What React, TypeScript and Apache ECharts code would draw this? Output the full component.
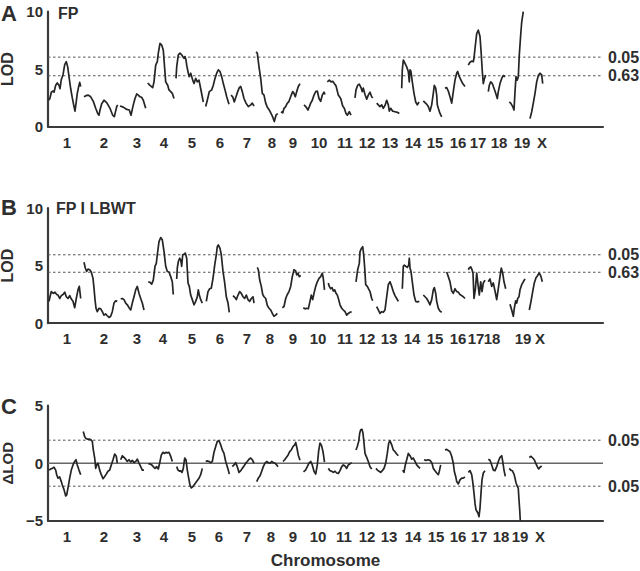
import React, { useEffect, useRef } from "react";
import * as echarts from "echarts";

// ---------- data ----------
const chromNames = ["1","2","3","4","5","6","7","8","9","10","11","12","13","14","15","16","17","18","19","X"];
// chromosome label positions (map units along the genome axis)
const chromPosA = [19,56,89,116,144,172,199,224,245,271,297,319,342,365,387,410,430,451,474,494];
const chromPosB = [19,56,89,115,144,172,199,222,245,270,297,319,341,364,387,410,428,444,475,492];
const chromPosC = [19,56,89,116,144,171,199,223,245,270,296,319,341,365,388,410,431,453,472,492];
const genomeLength = 555;

// thresholds
const thrA = [6.05, 4.43];
const thrB = [5.95, 4.43];
const thrC = [2, -2];
const thrLabelsAB = ["0.05", "0.63"];
const thrLabelsC = ["0.05", "0.05"];

// Panel A: FP  — [position, LOD] per chromosome
const lodFP: number[][][] = [
  [[1,2.3],[2,2.5],[3.3,3.0],[5,3.1],[6,3.0],[7.7,3.6],[9.3,3.8],[11,3.6],[12,3.3],[13.3,4.1],[15,4.5],[16.7,5.4],[18.3,5.65],[19.7,5.2],[21,4.35],[22.7,3.3],[24.3,2.5],[26,1.75],[27,1.35],[28,2.0],[29.3,2.9],[30.7,3.5],[31.7,3.85],[32.7,3.5]],
  [[36,2.6],[38,2.7],[40.3,2.75],[42.7,2.6],[45.3,2.2],[47.7,1.6],[49.7,1.15],[51,1.0],[52,1.45],[53.7,2.0],[56,2.3],[58.7,2.1],[62,1.6],[64.7,1.0],[66.3,0.87],[68.7,1.75],[69.7,1.9]],
  [[72,1.8],[75.3,1.7],[78.7,1.5],[81.3,1.45],[83,1.0],[85.3,1.9],[87,2.45],[88.7,2.85],[90.3,2.75],[92,2.6],[93.7,2.55],[95.3,2.3],[97.7,1.6]],
  [[99.7,3.8],[102,3.6],[104.7,3.4],[106,3.9],[107.7,5.35],[109.3,5.65],[110.3,6.4],[112,7.25],[113.7,7.1],[115.3,6.65],[116.3,5.5],[117.7,3.9],[119.7,3.6],[121,3.2],[122.7,3.05],[124.3,2.9],[126,2.45]],
  [[128,4.2],[128.7,5.2],[130.3,6.25],[132,6.4],[133.7,6.25],[134.7,6.1],[136,5.95],[137,6.1],[138,5.8],[138.7,5.35],[140.3,4.65],[141.3,4.35],[142.7,4.65],[144.7,4.05],[146,3.75],[147.7,4.2],[149.3,3.9],[151,4.05],[152.7,3.3],[155.3,2.15]],
  [[157.7,1.75],[159.3,2.3],[161.3,3.05],[163.7,3.2],[165.3,3.6],[167,4.2],[168.7,4.65],[170.3,4.95],[172,4.8],[173.7,4.35],[175.3,3.75],[177,3.2],[178.7,2.6],[181,1.95]],
  [[183,2.75],[184.7,2.6],[186.3,2.15],[188,2.6],[189.7,3.05],[191.3,3.4],[192.7,3.5],[194.3,3.05],[196,2.45],[198,2.05],[200.3,1.75],[202.7,1.9],[204.3,2.05],[206,1.8]],
  [[208,6.5],[209.3,6.4],[211,5.2],[212.7,4.2],[214.3,2.9],[216,2.75],[217.7,2.05],[219.3,1.7],[221.3,1.45],[223,1.15],[224.7,0.85],[226.3,0.45],[228,1.0],[229.7,1.15]],
  [[233,1.3],[234.7,1.2],[236,1.6],[237.7,1.75],[239.3,2.05],[240.7,2.15],[242,2.45],[243.3,2.75],[244.7,3.05],[246,2.9],[247.3,2.6],[248.7,3.05],[250.3,3.5],[252,3.75]],
  [[256,1.9],[257.7,1.75],[260,1.45],[262.7,2.05],[264.3,2.3],[266,2.75],[267.7,3.05],[269.3,3.1],[271,2.45],[272.7,2.2],[274.3,2.75],[276,3.0],[277,2.8]],
  [[279.3,3.9],[281.3,4.05],[283,3.9],[284.7,3.95],[286.3,3.75],[288,3.55],[290.3,2.75],[292.7,2.45],[294.7,1.8],[296.3,1.6],[298,1.15],[299.3,1.0],[301.3,1.3],[303,1.0]],
  [[307,2.5],[308,3.2],[309.7,3.6],[311.3,3.7],[313,3.4],[314.3,3.05],[315.3,3.35],[317,2.8],[318.7,2.4],[320.3,2.75],[322,3.0],[323.7,2.6],[324.7,2.5]],
  [[328.7,2.05],[330.3,1.9],[332,1.75],[333.7,1.9],[335.3,1.6],[337,1.85],[338.7,2.3],[340.3,1.9],[341.3,1.35],[342.7,1.6],[344.7,1.35],[347,1.3],[349.3,1.25],[351.3,1.15]],
  [[353.7,3.35],[354.3,4.95],[355.3,5.8],[357,5.5],[358.7,5.2],[360.3,4.8],[361.3,3.9],[362,4.95],[363,4.8],[364.3,3.9],[366,2.9],[367.7,2.15],[369.3,1.9],[371,2.15]],
  [[375.3,2.25],[377,2.1],[378.7,1.95],[380.3,1.75],[382,1.35],[383.7,1.9],[385.3,2.9],[386.3,3.6],[387.7,3.35],[388.7,2.75],[389.3,1.9],[390.3,1.6],[392,1.15],[393.7,0.85]],
  [[397,3.35],[398.7,3.4],[400.3,3.1],[402,2.6],[403.7,2.05],[405.3,3.05],[407,4.05],[408.7,4.65],[409.7,4.8],[411.3,4.35],[413,4.05],[414.7,3.75],[417,3.5]],
  [[420.3,5.35],[422,5.6],[423.7,5.7],[425.3,5.65],[426,5.95],[427,6.8],[428.7,8.1],[430.3,8.4],[432,7.85],[433.3,6.25],[434.3,4.8],[435.3,3.75],[436.3,4.15],[437.7,4.5]],
  [[440.3,3.05],[441.3,3.6],[442.7,3.9],[444.3,3.75],[446,3.35],[447.7,2.9],[449.3,2.45],[450.3,3.05],[452,3.75],[453.7,4.2],[455.3,4.45],[457,4.35]],
  [[461.3,2.15],[462.7,2.05],[464.7,1.75],[466,1.45],[467,3.05],[468,4.35],[469.3,4.05],[470.3,4.35],[471.3,6.25],[472.7,8.0],[473.7,9.1],[475.3,10]],
  [[482,0.7],[483.7,1.3],[485.3,2.05],[487,2.9],[488.7,3.9],[490.3,4.45],[492,4.65],[493.7,4.5],[494.7,3.75]],
];

// Panel B: FP | LBWT
const lodFPgivenLBWT: number[][][] = [
  [[1,1.9],[2,2.3],[3.3,2.75],[5.3,2.6],[7,2.7],[8.7,2.5],[10,2.45],[11.7,2.15],[13.3,2.4],[15,2.5],[16.7,2.7],[18.3,2.3],[20,2.15],[21.7,2.4],[23.3,2.1],[25,1.9],[26.7,1.35],[28.3,2.15],[30,2.9],[31.3,3.2],[32.7,2.15]],
  [[36,5.3],[37.3,4.8],[38.7,4.5],[40,4.7],[41.7,4.65],[43.3,4.45],[45,3.9],[46,3.05],[47,2.05],[48,1.3],[49.3,1.0],[51,1.3],[52.7,1.25],[54.3,1.0],[56,0.7],[57.7,0.8],[59.3,0.65],[61,0.5],[62.7,0.6],[64.3,1.0],[66,1.75],[67.7,1.95],[69.3,1.9]],
  [[72.7,2.1],[74.3,2.15],[76,2.05],[77.7,1.75],[79.3,1.6],[81,1.35],[82.7,1.15],[84.3,1.75],[86,2.3],[87.7,2.9],[89.3,3.2],[91,2.6],[92.7,2.15],[94.3,1.75],[96,1.15]],
  [[100.3,3.6],[102,3.55],[103.7,3.4],[105.3,3.75],[107,4.95],[108.3,5.2],[109.3,5.95],[111,7.1],[112.7,7.45],[114.3,7.25],[116,6.25],[117.7,4.95],[119.3,4.5],[121,4.45],[122.7,4.05],[124.3,3.6],[125.3,2.5]],
  [[128.7,3.85],[129.3,4.8],[130.3,5.35],[131.7,5.65],[132.7,5.5],[133.7,4.95],[134.7,5.95],[136,6.0],[137.3,6.1],[138.7,5.65],[140,3.5],[141.3,3.2],[142.7,2.45],[144.3,2.05],[146,1.6],[147.7,1.9],[149.3,2.3],[150.3,2.9],[151.3,2.45],[152.7,2.05],[154.3,1.75]],
  [[158.3,1.9],[160,2.75],[161.7,3.0],[163.3,3.05],[165,3.9],[166.7,5.05],[168.3,5.95],[169.3,6.65],[170.3,6.8],[172,6.5],[173.3,5.95],[175,4.5],[176.7,3.5],[178.3,2.3],[180,1.75],[181.3,0.95]],
  [[185,2.4],[186.7,2.25],[188.3,2.05],[190,2.45],[191.7,2.75],[193.3,2.6],[195,2.3],[196.7,2.15],[198.3,2.45],[200,2.05],[201.7,1.9],[203.3,2.15],[205,2.3],[206,1.75]],
  [[209.3,4.85],[210.3,4.65],[211.7,3.75],[213.3,3.2],[214.7,2.5],[216,2.3],[217.7,2.15],[219.3,1.55],[221,1.3],[222.7,1.15],[224.3,0.85],[226,0.6],[227.7,0.7],[229.3,0.85]],
  [[234.3,1.35],[236,1.45],[237.7,2.15],[239.3,2.5],[241,2.75],[242.7,3.2],[244.3,4.05],[246,4.65],[247.7,4.55],[248.7,4.2],[250,4.35],[251.3,4.05],[252.7,4.15]],
  [[255.3,1.35],[257,1.25],[258.7,1.3],[260.3,1.25],[262,1.9],[263.3,2.45],[264.7,2.05],[266,2.6],[267.7,3.2],[269.3,3.6],[271,3.9],[272.7,4.05],[274.3,4.35],[275.3,3.9],[276.5,2.9]],
  [[280.3,3.5],[281.3,3.2],[282.7,3.0],[284,3.1],[285.3,2.8],[286.7,2.9],[288,2.6],[289.3,2.45],[290.7,2.05],[292,1.6],[293.7,1.3],[295.3,1.15],[297,1.0],[298.7,0.7],[300.3,0.85],[302,0.95],[303.7,1.0]],
  [[308,3.6],[309.7,4.65],[311.3,5.2],[312,6.2],[313.3,6.5],[314.7,6.65],[315.7,5.95],[316.7,4.8],[317.7,3.35],[319.3,3.2],[322,2.75],[323.7,2.15],[324.7,1.95]],
  [[328.7,1.45],[330.3,1.15],[332,0.85],[333.7,1.0],[335.3,0.95],[337,1.15],[338.7,2.3],[340.3,3.35],[342,3.6],[343.7,3.2],[345.3,2.75],[347,2.4],[348.7,2.15],[350.3,1.9]],
  [[354.3,3.0],[355.3,4.95],[356.3,5.05],[357.7,4.95],[359.3,4.85],[360.7,5.05],[361.3,5.65],[362,4.8],[363,4.5],[364.3,3.6],[366,2.45],[367.7,1.9],[369.3,1.85],[371.3,1.9]],
  [[375.3,2.45],[377,2.3],[378.7,2.15],[380.3,1.9],[382,1.6],[383.7,2.05],[385.3,2.9],[386.3,3.1],[387.7,2.6],[388.7,1.9],[390.3,1.3],[392,1.05],[393.7,0.95]],
  [[398.7,4.45],[400.3,4.05],[402,3.6],[403.7,2.8],[405.3,2.6],[407,3.0],[408.7,2.75],[410.3,2.7],[412,2.5],[413.7,2.4],[415.3,2.3],[417,2.15]],
  [[420.3,4.65],[421.3,4.8],[422.7,4.9],[424,4.65],[425,4.35],[426,2.15],[427.3,2.9],[428.7,4.35],[430,3.35],[431.3,2.45],[432.7,3.6],[434,2.75],[435.3,3.5],[437,3.75]],
  [[440.3,3.6],[442,3.85],[443.7,3.2],[445.3,3.5],[447,2.8],[448.7,2.05],[450.3,3.0],[452,4.05],[453.3,4.8],[454.7,4.35],[456,3.6],[457.7,3.0]],
  [[462,1.65],[463.7,1.15],[465.3,0.6],[466.3,1.3],[467.7,1.95],[468.7,1.75],[469.7,2.15],[471,2.3],[472,2.9],[473.7,3.35],[475.3,3.6],[477,3.85]],
  [[481.3,1.15],[483,1.9],[484.7,2.75],[486.3,3.5],[488,3.95],[489.7,4.15],[491,4.35],[492,4.25],[493,4.05],[494.3,3.6]],
];

// Panel C: delta LOD
const deltaLod: number[][][] = [
  [[1,-0.6],[2.7,-0.5],[4.3,-0.45],[6,-0.35],[7.7,-0.6],[8.7,-1.0],[10,-1.3],[11.7,-1.2],[13.3,-1.6],[14.3,-1.9],[16,-2.3],[17.7,-2.85],[18.7,-2.75],[20,-2.15],[21.7,-1.3],[23.3,-0.6],[25,-0.15],[26.7,0.15],[28,0.3],[29.3,-0.15],[31,-0.6],[32.7,-1.0]],
  [[35.3,2.75],[36.7,2.3],[38,2.15],[39.3,2.1],[41,2.1],[42.7,2.05],[44.3,1.9],[45.3,1.15],[46.7,0.45],[47.7,-0.45],[48.7,-0.15],[50,0],[51.7,-0.6],[53.3,-1.0],[55,-1.35],[56.7,-1.15],[58.3,-0.95],[60,-0.7],[61.7,-0.6],[63.3,-0.15],[65,0.3],[66.7,0.8],[68.3,0.6],[69.3,0]],
  [[72.7,0.3],[74.3,0.65],[76,0.5],[77.7,0.35],[79.3,0.15],[81,0.3],[82.7,0.1],[84.3,0.25],[86,0.05],[87.7,0.15],[89.3,0.35],[91,0],[92.7,-0.3],[94.3,-0.6],[96,-0.6]],
  [[100.3,-0.05],[102,-0.05],[103.7,-0.15],[105.3,-0.3],[107,-0.45],[108.7,-0.3],[110.3,-0.5],[112,0.15],[113.3,0.7],[115,0.95],[116.7,0.85],[118,0.95],[119.3,0.9],[121,0.95],[122.7,0.6],[124.3,0.15]],
  [[128.7,-0.3],[130,-0.6],[131.7,-0.7],[132.7,-0.65],[134,-0.8],[135.3,-0.45],[136.7,0.45],[138,0.3],[139.3,-0.6],[140.7,-1.3],[142,-1.9],[143.3,-2.15],[144.7,-2.05],[146,-1.9],[147.7,-1.7],[149.3,-1.5],[151,-1.3],[152.7,-1.0],[154.3,-0.45]],
  [[157.7,0.15],[159.3,0.2],[161,0.15],[162.7,0.05],[164.3,0.15],[166,0.95],[167.7,1.45],[169.3,1.9],[171,1.95],[172.7,1.6],[174.3,1.15],[176,0.85],[177.7,0.15],[179.3,-0.3],[180.3,-0.6],[181.3,-0.95]],
  [[184.3,-0.3],[186,-0.15],[187.7,0.05],[189.3,-0.3],[191,-0.8],[192.7,-0.65],[194.3,-0.45],[196,-0.25],[197.7,0],[199.3,0.15],[201,0.35],[202.7,0.45],[204.3,0.3],[206,0]],
  [[208.7,-1.6],[210.3,-1.3],[212,-1.1],[213.7,-0.7],[215.3,-0.3],[217,0],[218.7,0.15],[220.3,0.05],[222,0],[223.7,0.15],[225.3,0.05],[227,0],[228.7,-0.15],[230,-0.3]],
  [[235,0.15],[236.7,0.3],[238.3,0.5],[240,0.7],[241.7,1.0],[243.3,1.15],[245,1.45],[246.7,1.6],[247.7,1.8],[249,1.3],[250.3,0.7],[252,0.25]],
  [[255.5,-0.75],[257.5,-0.6],[259.3,-0.3],[261,0],[262.7,0.15],[264.3,-0.15],[266,-0.7],[267.7,-0.95],[269.3,-0.15],[270.7,1.1],[272,1.75],[273.5,1.55],[275,1.0],[276.5,0.1]],
  [[280.3,-0.45],[282,-0.65],[283.7,-0.7],[285.3,-0.8],[287,-0.7],[288.7,-0.85],[290.3,-0.9],[292,-0.65],[293.7,-0.3],[295.3,-0.15],[297,-0.25],[298.7,-0.45],[300.3,-0.15],[302,-0.05],[303.7,0.05]],
  [[308,1.15],[309.3,1.45],[310.7,1.9],[311.7,2.6],[312.7,2.9],[314,2.95],[315,2.6],[316,1.75],[317,0.85],[318.7,0.5],[320.3,0.15],[322,-0.3],[323.7,-0.5]],
  [[328,-0.45],[329.3,-0.6],[331,-0.7],[332.7,-0.8],[334.3,-0.65],[336,-0.45],[337.7,0],[339.3,0.85],[340.7,1.75],[342,1.95],[343.7,1.6],[345.3,1.15],[347,1.0],[348.7,0.8],[350.3,0.65]],
  [[354.7,-0.6],[356,-0.8],[357.3,-0.15],[358.7,0.3],[360.3,0.85],[362,0.65],[363.7,0.35],[365.3,0.45],[367,0.15],[368.7,-0.15],[370.3,-0.3],[372,-0.45]],
  [[376,0.3],[378,0.25],[380,0.3],[382,0.25],[384,0],[385.3,-0.45],[387,-0.65],[388.7,-0.85],[390.3,-1.0],[391.3,-0.7],[392.7,-0.15]],
  [[397,1.15],[398.7,1.2],[400.3,1.1],[402,1.0],[403.7,0.6],[405.3,0],[406.3,-0.7],[407.7,-1.15],[408.7,-1.6],[410.3,-1.8],[412,-1.45],[413.7,-1.3],[415.3,-1.3],[417,-1.2]],
  [[420.3,-0.8],[422,-0.65],[423.7,-1.0],[424.7,-1.6],[426,-2.6],[427,-3.5],[428,-4.05],[429,-4.2],[430,-4.35],[431,-4.65],[432,-3.9],[433,-2.6],[434,-1.45],[435.3,-0.85],[437,-0.65]],
  [[440.3,0.35],[442,0.25],[443.7,-0.15],[445.3,-0.6],[447,-0.65],[448.7,-0.3],[450.3,0.15],[452,0.5],[453.7,0.65],[454.7,0.15],[456,-0.6],[457.3,-1.15]],
  [[461.3,-0.45],[462.7,-0.6],[464.3,-0.65],[466,-0.95],[467,-1.3],[468,-1.7],[469.3,-2.0],[470.3,-2.2],[471,-3.2],[471.7,-4.05],[472.3,-5]],
  [[481.3,0.5],[483,0.6],[484.7,0.45],[486.3,0.3],[487.7,0],[489.3,-0.3],[490.7,-0.5],[492,-0.35],[493.7,-0.25]],
];

// ---------- styling ----------
const FONT = "'Liberation Sans', Arial, Helvetica, sans-serif";
const TEXT = "#2e2e2e";
const AXIS = "#3a3a3a";
const CURVE = "#252525";

const gridTops = [11.7, 208.2, 405.7];
const gridH = 115;

function xAxisFor(i: number, pos: number[], withName: boolean) {
  return {
    type: "value",
    gridIndex: i,
    min: 0,
    max: genomeLength,
    axisLine: { show: true, onZero: false, lineStyle: { color: AXIS, width: 2.2 } },
    axisTick: { show: false },
    splitLine: { show: false },
    axisLabel: {
      customValues: pos,
      margin: 8,
      color: TEXT,
      fontFamily: FONT,
      fontWeight: "bold",
      fontSize: 15,
      formatter: (v: number) => {
        const k = pos.indexOf(v);
        return k >= 0 ? chromNames[k] : "";
      },
    },
    name: withName ? "Chromosome" : "",
    nameLocation: "middle",
    nameGap: 31,
    nameTextStyle: { color: TEXT, fontFamily: FONT, fontWeight: "bold", fontSize: 17 },
  };
}

function yAxisFor(i: number, min: number, max: number, name: string, gap: number, size: number) {
  return {
    type: "value",
    gridIndex: i,
    min,
    max,
    interval: 5,
    axisLine: { show: true, onZero: false, lineStyle: { color: AXIS, width: 2.2 } },
    axisTick: { show: false },
    splitLine: { show: false },
    axisLabel: {
      margin: 5,
      color: TEXT,
      fontFamily: FONT,
      fontWeight: "bold",
      fontSize: 15,
      formatter: (v: number) => (v < 0 ? "\u2212" + Math.abs(v) : String(v)),
    },
    name,
    nameLocation: "middle",
    nameRotate: 90,
    nameGap: gap,
    nameTextStyle: { color: TEXT, fontFamily: FONT, fontWeight: "bold", fontSize: size },
  };
}

function curveSeries(panel: number[][][], g: number) {
  return panel.map((chr) => ({
    type: "line",
    xAxisIndex: g,
    yAxisIndex: g,
    data: chr,
    symbol: "none",
    showSymbol: false,
    silent: true,
    z: 4,
    lineStyle: { color: CURVE, width: 1.7, join: "round" },
  }));
}

function thresholdSeries(g: number, value: number, label: string) {
  return {
    type: "line",
    xAxisIndex: g,
    yAxisIndex: g,
    data: [[0, value], [genomeLength, value]],
    symbol: "none",
    showSymbol: false,
    silent: true,
    z: 2,
    lineStyle: { color: "#555", width: 1, type: [2.5, 2.5] },
    endLabel: {
      show: true,
      formatter: label,
      distance: 5,
      color: TEXT,
      fontFamily: FONT,
      fontWeight: "bold",
      fontSize: 16,
    },
  };
}

function zeroSeries(g: number) {
  return {
    type: "line",
    xAxisIndex: g,
    yAxisIndex: g,
    data: [[0, 0], [genomeLength, 0]],
    symbol: "none",
    showSymbol: false,
    silent: true,
    z: 2,
    lineStyle: { color: "#666", width: 1.6 },
  };
}

function textEl(text: string, x: number, y: number, size: number) {
  return {
    type: "text",
    x,
    y,
    silent: true,
    style: {
      text,
      fill: TEXT,
      font: `bold ${size}px ${FONT}`,
      align: "left",
      verticalAlign: "middle",
    },
  };
}

export default function App() {
  const ref = useRef<HTMLDivElement>(null);
  useEffect(() => {
    if (!ref.current) return;
    const chart = echarts.init(ref.current, null, { renderer: "svg" });
    const option: any = {
      animation: false,
      backgroundColor: "#ffffff",
      textStyle: { fontFamily: FONT },
      grid: gridTops.map((t) => ({
        left: 48,
        top: t,
        width: genomeLength,
        height: gridH,
        containLabel: false,
        outerBoundsMode: "none",
      })),
      xAxis: [
        xAxisFor(0, chromPosA, false),
        xAxisFor(1, chromPosB, false),
        xAxisFor(2, chromPosC, true),
      ],
      yAxis: [
        yAxisFor(0, 0, 10, "LOD", 30, 16),
        yAxisFor(1, 0, 10, "LOD", 30, 16),
        yAxisFor(2, -5, 5, "\u0394LOD", 25, 15),
      ],
      series: [
        thresholdSeries(0, thrA[0], thrLabelsAB[0]),
        thresholdSeries(0, thrA[1], thrLabelsAB[1]),
        thresholdSeries(1, thrB[0], thrLabelsAB[0]),
        thresholdSeries(1, thrB[1], thrLabelsAB[1]),
        thresholdSeries(2, thrC[0], thrLabelsC[0]),
        thresholdSeries(2, thrC[1], thrLabelsC[1]),
        zeroSeries(2),
        ...curveSeries(lodFP, 0),
        ...curveSeries(lodFPgivenLBWT, 1),
        ...curveSeries(deltaLod, 2),
      ],
      graphic: [
        textEl("A", 1, 13, 22),
        textEl("FP", 58, 13, 16),
        textEl("B", 1, 207, 22),
        textEl("FP I LBWT", 56, 208, 16),
        textEl("C", 1, 406, 22),
      ],
    };
    chart.setOption(option);
    return () => chart.dispose();
  }, []);
  return (
    <div
      ref={ref}
      style={{ position: "absolute", left: 0, top: 0, width: 640, height: 571 }}
    />
  );
}
